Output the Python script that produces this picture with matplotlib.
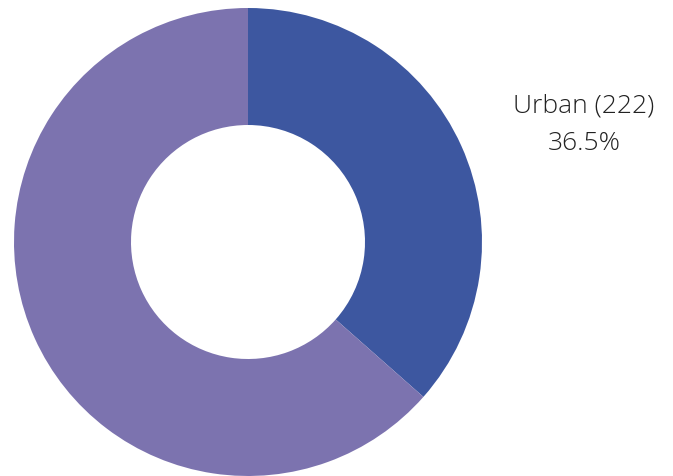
import matplotlib
matplotlib.use("Agg")
import matplotlib.pyplot as plt

labels = ["Urban", "Rural"]
counts = [222, 386]
colors = ["#3d57a0", "#7c73af"]

fig = plt.figure(figsize=(6.73, 4.77), dpi=100)
ax = fig.add_axes([14 / 673, 0 / 477, 468 / 673, 468 / 477])

ax.pie(counts, colors=colors, startangle=90, counterclock=False,
       radius=1, wedgeprops=dict(width=0.5, linewidth=0))
ax.set_xlim(-1, 1)
ax.set_ylim(-1, 1)
ax.set_aspect("equal")
ax.axis("off")

total = sum(counts)
pct = counts[0] / total * 100
fig.text(584 / 673, 1 - 106 / 477, f"{labels[0]} ({counts[0]})",
         ha="center", va="center", fontsize=19, family="Open Sans",
         fontweight="light", color="#222222")
fig.text(584 / 673, 1 - 144 / 477, f"{pct:.1f}%",
         ha="center", va="center", fontsize=19, family="Open Sans",
         fontweight="light", color="#222222")

fig.savefig("out.png", dpi=100)
